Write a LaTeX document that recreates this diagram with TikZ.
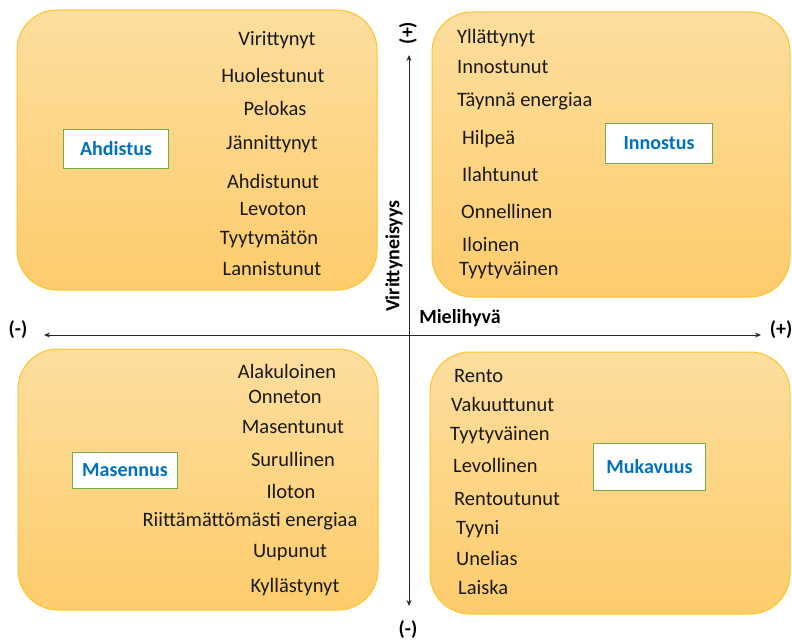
\documentclass[tikz,border=0pt]{standalone}
\usepackage{fontspec}
\setmainfont{Carlito}
\usetikzlibrary{arrows.meta}
\definecolor{boxedge}{RGB}{255,196,40}
\definecolor{boxtop}{RGB}{253,222,158}
\definecolor{boxbot}{RGB}{253,204,108}
\definecolor{lblgreen}{RGB}{112,173,71}
\definecolor{lblblue}{RGB}{0,112,192}
\tikzset{
  quad/.style={draw=boxedge, line width=1pt, rounded corners=40pt, top color=boxtop, bottom color=boxbot},
  word/.style={font=\fontsize{20.5}{23}\selectfont, inner sep=0pt, text=black!90},
  wordl/.style={word, anchor=west},
  label/.style={draw=lblgreen, line width=1pt, fill=white, font=\fontsize{20}{22}\selectfont\bfseries, text=lblblue, inner sep=0pt, anchor=north west},
  axis/.style={line width=0.8pt, black!85, {Stealth[length=6pt,width=5pt]}-{Stealth[length=6pt,width=5pt]}},
  axlab/.style={font=\fontsize{20}{22}\selectfont\bfseries, inner sep=0pt},
}
\begin{document}
\begin{tikzpicture}[x=1pt,y=-1pt]
\useasboundingbox (0,0) rectangle (792,644);
% quadrant boxes
\draw[quad] (17,10) rectangle (377,290);
\draw[quad] (432,12) rectangle (790,297);
\draw[quad] (18,349) rectangle (378,610);
\draw[quad] (430,352) rectangle (790,614);
% axes
\coordinate (xl) at (44,335);
\coordinate (xr) at (761,335);
\coordinate (yt) at (409,55);
\coordinate (yb) at (409,606);
\draw[axis] (xl) -- (xr);
\draw[axis] (yb) -- (yt);
\node[axlab] (mh) at (460,318) {Mielihyvä};
\node[axlab, rotate=90] (vr) at (394,256) {Virittyneisyys};
\node[axlab, rotate=90] (yp) at (408,33) {(+)};
\node[axlab] (ym) at (408,630) {(-)};
\node[axlab] (xm) at (18,330) {(-)};
\node[axlab] (xp) at (781,330) {(+)};
% labels
\node[label, minimum width=105pt, minimum height=39pt] (ahd) at (63,129) {Ahdistus};
\node[label, minimum width=107pt, minimum height=40pt] (inn) at (605,123) {Innostus};
\node[label, minimum width=105pt, minimum height=36pt] (mas) at (72,452) {Masennus};
\node[label, minimum width=112pt, minimum height=47pt] (muk) at (593,443) {Mukavuus};
% top-left words
\node[word] (a1) at (277,40) {Virittynyt};
\node[word] (a2) at (273,75) {Huolestunut};
\node[word] (a3) at (275,108) {Pelokas};
\node[word] (a4) at (272,144) {Jännittynyt};
\node[word] (a5) at (273,181) {Ahdistunut};
\node[word] (a6) at (273,209) {Levoton};
\node[word] (a7) at (269,239) {Tyytymätön};
\node[word] (a8) at (272,269) {Lannistunut};
% top-right words
\node[wordl] (b1) at (457,38) {Yllättynyt};
\node[wordl] (b2) at (457,67) {Innostunut};
\node[wordl] (b3) at (457,101) {Täynnä energiaa};
\node[wordl] (b4) at (462,139) {Hilpeä};
\node[wordl] (b5) at (462,174) {Ilahtunut};
\node[wordl] (b6) at (461,211) {Onnellinen};
\node[wordl] (b7) at (462,244) {Iloinen};
\node[wordl] (b8) at (459,270) {Tyytyväinen};
% bottom-left words
\node[word] (c1) at (287,371) {Alakuloinen};
\node[word] (c2) at (285,397) {Onneton};
\node[word] (c3) at (293,427) {Masentunut};
\node[word] (c4) at (293,459) {Surullinen};
\node[word] (c5) at (291,491) {Iloton};
\node[word] (c6) at (250,521) {Riittämättömästi energiaa};
\node[word] (c7) at (290,553) {Uupunut};
\node[word] (c8) at (295,587) {Kyllästynyt};
% bottom-right words
\node[wordl] (d1) at (454,376) {Rento};
\node[wordl] (d2) at (451,404) {Vakuuttunut};
\node[wordl] (d3) at (450,435) {Tyytyväinen};
\node[wordl] (d4) at (453,465) {Levollinen};
\node[wordl] (d5) at (454,499) {Rentoutunut};
\node[wordl] (d6) at (456,529) {Tyyni};
\node[wordl] (d7) at (456,558) {Unelias};
\node[wordl] (d8) at (458,587) {Laiska};
\end{tikzpicture}
\end{document}
